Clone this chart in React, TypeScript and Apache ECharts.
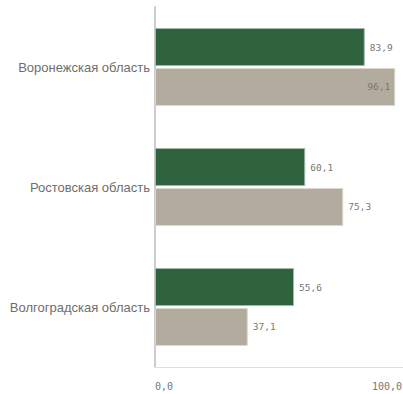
import React, { useEffect, useRef } from "react";
import * as echarts from "echarts";

const categories = ["Воронежская область", "Ростовская область", "Волгоградская область"];
const seriesA = [83.9, 60.1, 55.6];
const seriesB = [96.1, 75.3, 37.1];
const axisMin = 0;
const axisMax = 100;

const fmt = (v: number) => v.toFixed(1).replace(".", ",");

export default function App() {
  const ref = useRef<HTMLDivElement>(null);
  useEffect(() => {
    if (!ref.current) return;
    const chart = echarts.init(ref.current, undefined, { renderer: "svg" });
    const mono = "DejaVu Sans Mono";
    chart.setOption({
      animation: false,
      grid: {
        left: 155,
        top: 7,
        right: -2,
        bottom: 27,
        containLabel: false,
        outerBoundsMode: "none",
      },
      xAxis: {
        type: "value",
        min: axisMin,
        max: axisMax,
        interval: 100,
        axisLine: { show: true, lineStyle: { color: "#e0e0e0", width: 1 } },
        axisTick: { show: false },
        splitLine: { show: false },
        axisLabel: {
          formatter: (v: number) => fmt(v),
          color: "#777",
          fontFamily: mono,
          fontSize: 10,
          margin: 14,
          padding: [0, 3, 0, 0],
          alignMinLabel: "left",
          alignMaxLabel: "right",
        },
      },
      yAxis: {
        type: "category",
        data: categories,
        inverse: true,
        axisLine: { show: true, lineStyle: { color: "#cccccc", width: 2 } },
        axisTick: { show: false },
        axisLabel: {
          color: "#6e6e6e",
          fontFamily: "Liberation Sans, Arial, sans-serif",
          fontSize: 13,
          margin: 5,
        },
      },
      series: [
        {
          type: "bar",
          data: seriesA,
          barWidth: 38,
          barGap: "5%",
          itemStyle: { color: "#2e633d", borderColor: "#9fb8a6", borderWidth: 1 },
          label: {
            show: true,
            position: "right",
            distance: 5,
            formatter: (p: any) => fmt(p.value),
            color: "#777",
            fontFamily: mono,
            fontSize: 9.5,
          },
        },
        {
          type: "bar",
          data: seriesB.map((v) => ({
            value: v,
            label: v > 90 ? { position: "insideRight", distance: 5 } : undefined,
          })),
          barWidth: 38,
          barGap: "5%",
          itemStyle: { color: "#b2ab9e", borderColor: "#dcd8d0", borderWidth: 1 },
          label: {
            show: true,
            position: "right",
            distance: 5,
            formatter: (p: any) => fmt(p.value),
            color: "#777",
            fontFamily: mono,
            fontSize: 9.5,
          },
        },
      ],
    });
    return () => chart.dispose();
  }, []);
  return (
    <div
      ref={ref}
      style={{ position: "fixed", left: 0, top: 0, width: 403, height: 394, background: "#fff" }}
    />
  );
}
